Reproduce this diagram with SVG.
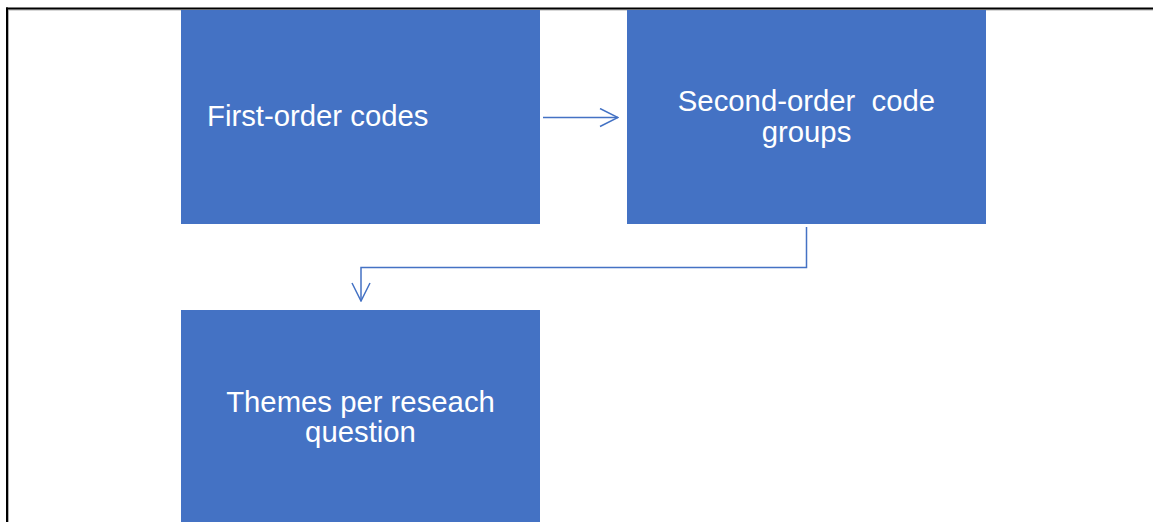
<svg xmlns="http://www.w3.org/2000/svg" width="1153" height="522" viewBox="0 0 1153 522">
<defs>
<style>
.box{fill:#4472C4}
.lbl{font-family:"Liberation Sans",Arial,sans-serif;font-size:29.3px;fill:#ffffff}
.con{fill:none;stroke:#4472C4;stroke-width:1.5}
</style>
<marker id="arr" viewBox="0 0 20 20" refX="19" refY="10" markerWidth="20" markerHeight="20" markerUnits="userSpaceOnUse" orient="auto">
<path d="M1,1 L19,10 L1,19" fill="none" stroke="#4472C4" stroke-width="1.5"/>
</marker>
</defs>
<rect width="1153" height="522" fill="#ffffff"/>
<g id="frame">
<rect x="8" y="9.5" width="1145" height="1" fill="#b0b0b0"/>
<rect x="8" y="9.5" width="1" height="513" fill="#b0b0b0"/>
<rect x="6" y="7.5" width="1147" height="2" fill="#000000"/>
<rect x="6" y="7.5" width="2" height="515" fill="#000000"/>
</g>
<g id="node-first">
<rect class="box" x="181" y="10" width="359" height="214"/>
<text class="lbl" x="207" y="126">First-order codes</text>
</g>
<g id="node-second">
<rect class="box" x="627" y="10" width="359" height="214"/>
<text class="lbl" x="806.5" y="111" text-anchor="middle" xml:space="preserve">Second-order  code</text>
<text class="lbl" x="806.5" y="142" text-anchor="middle">groups</text>
</g>
<g id="node-themes">
<rect class="box" x="181" y="310" width="359" height="215"/>
<text class="lbl" x="360.5" y="412" text-anchor="middle">Themes per reseach</text>
<text class="lbl" x="360.5" y="442" text-anchor="middle">question</text>
</g>
<g id="connectors">
<path class="con" d="M543,117.5 L618,117.5" marker-end="url(#arr)"/>
<path class="con" d="M806.5,227 L806.5,267.5 L361,267.5 L361,301" marker-end="url(#arr)"/>
</g>
</svg>
